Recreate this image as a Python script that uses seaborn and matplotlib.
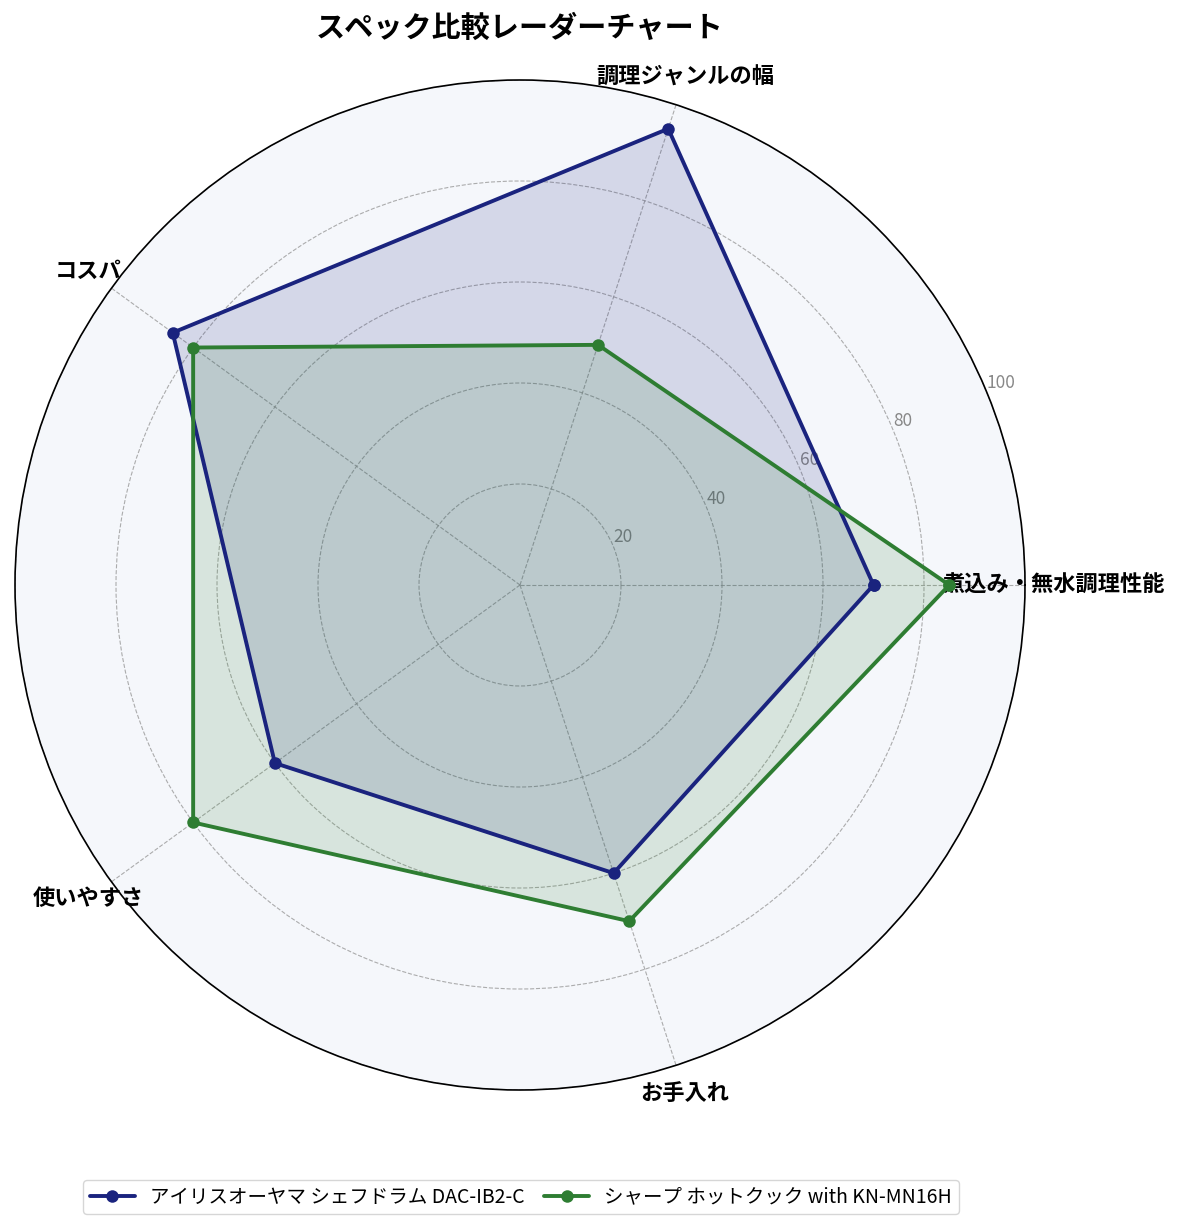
import numpy as np
import pandas as pd
import matplotlib
matplotlib.use("Agg")
import matplotlib.pyplot as plt
import seaborn as sns

categories = ["煮込み・無水調理性能", "調理ジャンルの幅", "コスパ", "使いやすさ", "お手入れ"]
series_names = ["アイリスオーヤマ シェフドラム DAC-IB2-C", "シャープ ホットクック with KN-MN16H"]
iris_values = [70, 95, 85, 60, 60]
sharp_values = [85, 50, 80, 80, 70]
colors = ["#1a237e", "#2e7d32"]
r_ticks = [20, 40, 60, 80, 100]
title = "スペック比較レーダーチャート"

sns.set_theme(style="white")
plt.rcParams['font.family'] = ['Noto Sans CJK JP', 'DejaVu Sans']
plt.rcParams['text.color'] = 'black'

fig = plt.figure(figsize=(11.85, 12.3), dpi=100)
ax = fig.add_axes([15/1185, 140/1230, 1010/1185, 1010/1230], projection="polar")
ax.set_facecolor("#f5f7fb")

n = len(categories)
angles = np.linspace(0, 2*np.pi, n, endpoint=False)

for name, vals, col in zip(series_names, [iris_values, sharp_values], colors):
    a = np.concatenate([angles, angles[:1]])
    v = list(vals) + [vals[0]]
    df = pd.DataFrame({"theta": a, "r": v})
    sns.lineplot(data=df, x="theta", y="r", ax=ax, sort=False, color=col,
                 linewidth=2.8, marker="o", markersize=9, markeredgewidth=0,
                 label=name, estimator=None)
    ax.fill(a, v, color=col, alpha=0.15)

ax.set_ylim(0, 100)
ax.set_xticks(angles)
ax.set_xticklabels(categories, fontsize=16, fontweight="bold", color="black")
ax.set_yticks(r_ticks)
ax.set_yticklabels([str(t) for t in r_ticks], fontsize=12.5, color="#888888")
ax.set_rlabel_position(22.5)
ax.set_xlabel("")
ax.set_ylabel("")
ax.grid(True, color="#999999", linestyle="--", linewidth=0.8, alpha=0.8)
ax.spines["polar"].set_color("black")
ax.spines["polar"].set_linewidth(1.2)
ax.tick_params(axis="x", pad=8)

ax.legend(loc="center", bbox_to_anchor=(506/1010, -1 * (1197 - 1090) / 1010), ncol=2,
          fontsize=14, frameon=True, edgecolor="#cccccc", handlelength=2.3,
          columnspacing=1.0, borderpad=0.35)
fig.text(520/1185, 1 - 28/1230, title, ha="center", va="center",
         fontsize=21, fontweight="bold", color="black")

fig.savefig("out.png", dpi=100)
